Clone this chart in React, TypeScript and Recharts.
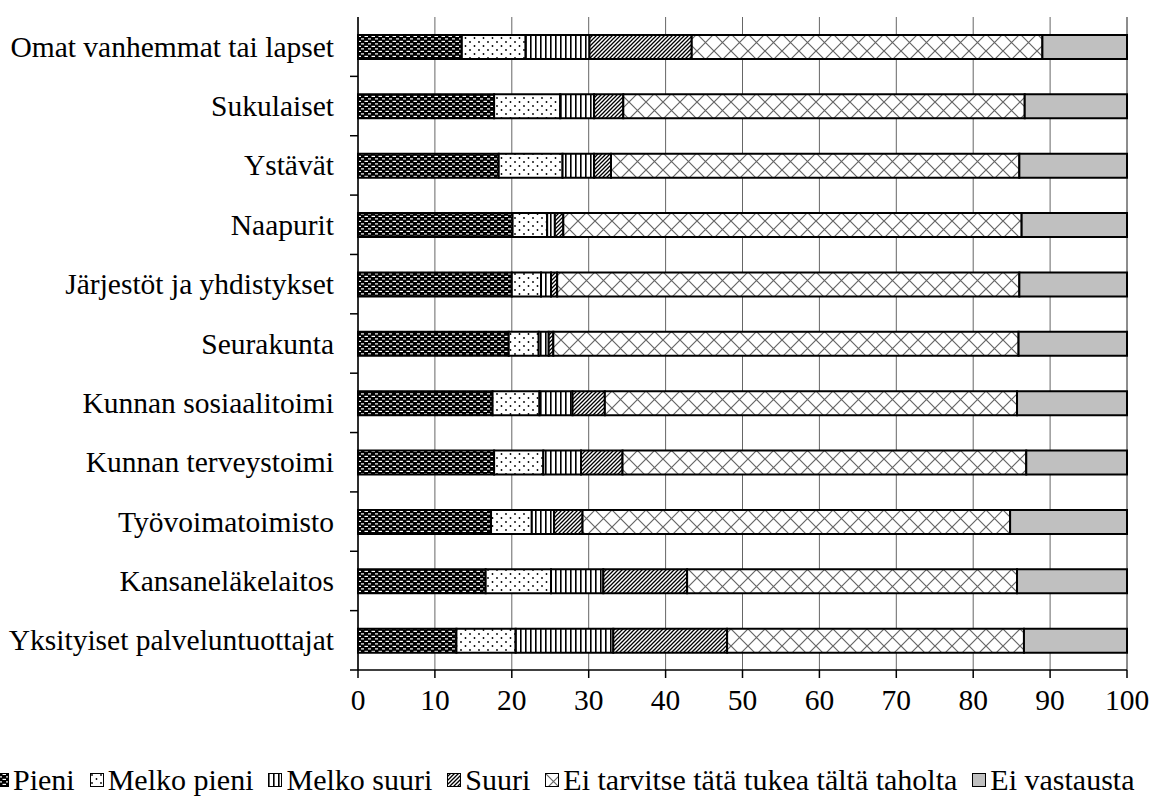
import React from 'react';
import { BarChart, Bar, XAxis, YAxis, CartesianGrid } from 'recharts';

// Tukitahot, ylhäältä alas
const CATEGORIES = [
  'Omat vanhemmat tai lapset',
  'Sukulaiset',
  'Ystävät',
  'Naapurit',
  'Järjestöt ja yhdistykset',
  'Seurakunta',
  'Kunnan sosiaalitoimi',
  'Kunnan terveystoimi',
  'Työvoimatoimisto',
  'Kansaneläkelaitos',
  'Yksityiset palveluntuottajat',
];

const PIENI = [13.5, 17.7, 18.3, 20.1, 20.0, 19.6, 17.5, 17.7, 17.3, 16.6, 12.8];
const MELKO_PIENI = [8.3, 8.6, 8.3, 4.5, 3.8, 3.9, 6.1, 6.4, 5.3, 8.5, 7.7];
const MELKO_SUURI = [8.3, 4.4, 4.1, 1.0, 1.3, 1.3, 4.3, 4.9, 2.9, 6.8, 12.7];
const SUURI = [13.3, 3.8, 2.2, 1.1, 0.8, 0.6, 4.2, 5.4, 3.7, 10.9, 14.8];
const EI_TARVITSE = [45.6, 52.2, 53.1, 59.6, 60.1, 60.5, 53.6, 52.5, 55.6, 42.9, 38.6];
const EI_VASTAUSTA = [11.0, 13.3, 14.0, 13.7, 14.0, 14.1, 14.3, 13.1, 15.2, 14.3, 13.4];

const X_TICKS = [0, 10, 20, 30, 40, 50, 60, 70, 80, 90, 100];

const SERIES = [
  { key: 'pieni', name: 'Pieni', values: PIENI, fill: 'url(#patPieni)' },
  { key: 'melkoPieni', name: 'Melko pieni', values: MELKO_PIENI, fill: 'url(#patMelkoPieni)' },
  { key: 'melkoSuuri', name: 'Melko suuri', values: MELKO_SUURI, fill: 'url(#patMelkoSuuri)' },
  { key: 'suuri', name: 'Suuri', values: SUURI, fill: 'url(#patSuuri)' },
  { key: 'eiTarvitse', name: 'Ei tarvitse tätä tukea tältä taholta', values: EI_TARVITSE, fill: 'url(#patEiTarvitse)' },
  { key: 'eiVastausta', name: 'Ei vastausta', values: EI_VASTAUSTA, fill: '#c0c0c0' },
];

const data = CATEGORIES.map((name, i) => {
  const row: Record<string, string | number> = { name };
  SERIES.forEach(s => { row[s.key] = s.values[i]; });
  return row;
});

const W = 1152;
const H = 799;
const FONT = 'Liberation Serif, Times New Roman, serif';
const FS = 29.5;
const LEGEND_FS = 30;
const MARGIN = { top: 17, right: 25, bottom: 0, left: 0 };
const Y_AXIS_W = 358;
const X_AXIS_H = 129;
const BAND = (H - MARGIN.top - MARGIN.bottom - X_AXIS_H) / CATEGORIES.length;

const Patterns = () => (
  <svg width={0} height={0} style={{ position: 'absolute' }}>
    <defs>
      <pattern id="patPieni" width={7} height={5} patternUnits="userSpaceOnUse">
        <rect width={7} height={5} fill="#000" />
        <rect x={0.5} y={0.8} width={3.5} height={1.2} fill="#fff" />
        <rect x={4} y={3.3} width={3.5} height={1.2} fill="#fff" />
      </pattern>
      <pattern id="patMelkoPieni" width={9} height={8} patternUnits="userSpaceOnUse">
        <rect width={9} height={8} fill="#fff" />
        <circle cx={2} cy={2} r={0.9} fill="#000" />
        <circle cx={6.5} cy={6} r={0.9} fill="#000" />
      </pattern>
      <pattern id="patMelkoSuuri" width={5} height={5} patternUnits="userSpaceOnUse">
        <rect width={5} height={5} fill="#fff" />
        <rect x={0} width={1.6} height={5} fill="#000" />
      </pattern>
      <pattern id="patSuuri" width={4} height={4} patternUnits="userSpaceOnUse">
        <rect width={4} height={4} fill="#fff" />
        <path d="M-1,1 l2,-2 M0,4 l4,-4 M3,5 l2,-2" stroke="#000" strokeWidth={1.3} />
      </pattern>
      <pattern id="patEiTarvitse" width={17} height={17} patternUnits="userSpaceOnUse">
        <rect width={17} height={17} fill="#fff" />
        <path d="M0,0 L17,17 M17,0 L0,17" stroke="#666" strokeWidth={1.2} />
      </pattern>
    </defs>
  </svg>
);

const CategoryTick = (props: any) => {
  const { x, y, payload } = props;
  const axisX = x + 24;
  return (
    <g>
      <text x={x} y={y} textAnchor="end" dominantBaseline="central" style={{ fontFamily: FONT, fontSize: FS }} fill="#000">
        {payload.value}
      </text>
      <line x1={axisX - 8} x2={axisX} y1={y + BAND / 2} y2={y + BAND / 2} stroke="#000" strokeWidth={1.5} />
    </g>
  );
};

const LegendRow = () => (
  <div
    style={{
      position: 'absolute',
      left: -5,
      top: 764,
      display: 'flex',
      alignItems: 'center',
      whiteSpace: 'nowrap',
      fontFamily: FONT,
      fontSize: LEGEND_FS,
      lineHeight: '32px',
      color: '#000',
    }}
  >
    {SERIES.map((s, i) => (
      <div key={s.key} style={{ display: 'flex', alignItems: 'center', marginRight: i === SERIES.length - 1 ? 0 : 15 }}>
        <svg width={14} height={14} style={{ marginRight: 4 }}>
          <rect x={0.5} y={0.5} width={13} height={13} fill={s.fill} stroke="#000" strokeWidth={1} />
        </svg>
        <span>{s.name}</span>
      </div>
    ))}
  </div>
);

export default function App() {
  return (
    <div style={{ position: 'absolute', left: 0, top: 0, width: W, height: H, overflow: 'hidden', background: '#fff', fontFamily: FONT }}>
      <Patterns />
      <BarChart width={W} height={H} data={data} layout="vertical" margin={MARGIN} barSize={24} style={{ fontFamily: FONT }}>
        <CartesianGrid horizontal={false} stroke="#666" strokeWidth={1} />
        <XAxis
          type="number"
          domain={[0, 100]}
          ticks={X_TICKS}
          interval={0}
          height={X_AXIS_H}
          stroke="#000"
          strokeWidth={1.5}
          tickSize={8}
          tickMargin={11}
          tick={{ style: { fontFamily: FONT, fontSize: FS }, fill: '#000' }}
        />
        <YAxis
          type="category"
          dataKey="name"
          width={Y_AXIS_W}
          interval={0}
          stroke="#000"
          strokeWidth={1.5}
          tickLine={false}
          tickSize={8}
          tickMargin={16}
          tick={<CategoryTick />}
        />
        {SERIES.map(s => (
          <Bar
            key={s.key}
            dataKey={s.key}
            name={s.name}
            stackId="a"
            fill={s.fill}
            stroke="#000"
            strokeWidth={2}
            isAnimationActive={false}
          />
        ))}
      </BarChart>
      <LegendRow />
    </div>
  );
}
